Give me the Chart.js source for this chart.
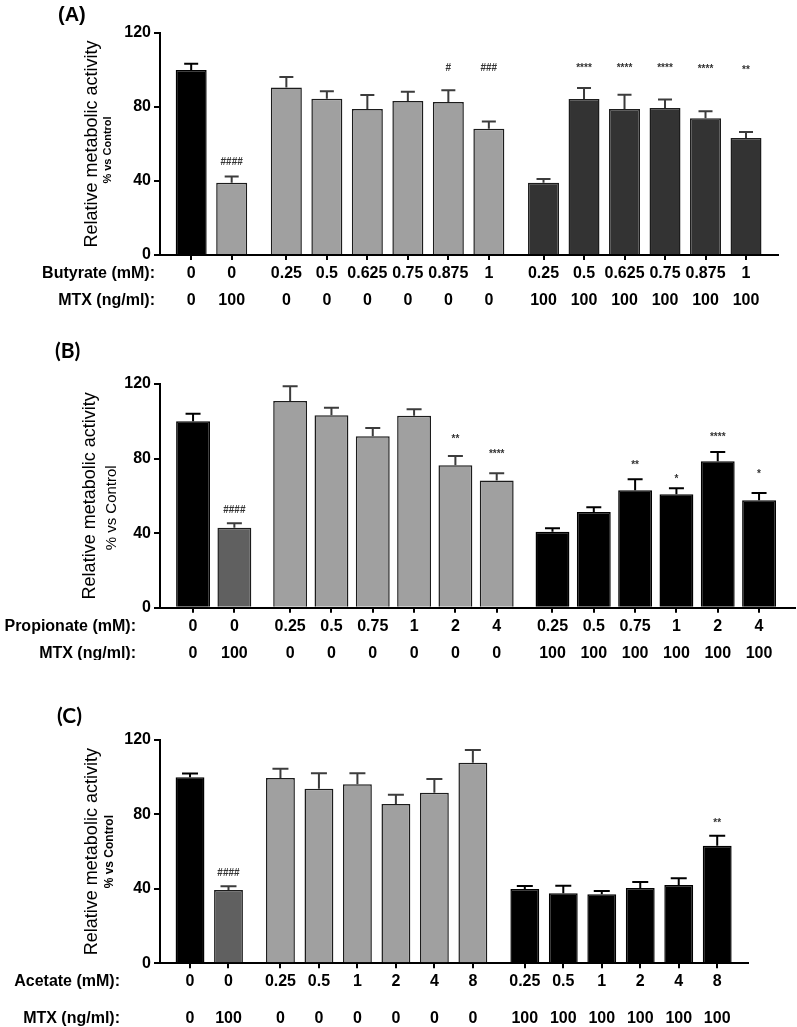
<!DOCTYPE html>
<html>
<head>
<meta charset="utf-8">
<script src="https://cdn.jsdelivr.net/npm/chart.js@4.4.0/dist/chart.umd.min.js"></script>
<style>
  html, body { margin: 0; padding: 0; background: #fff; }
  #page { position: relative; width: 797px; height: 1027px; overflow: hidden; }
  .panel { position: absolute; left: 0; width: 797px; }
</style>
</head>
<body>
<div id="page">
  <div class="panel" style="top:0;height:320px"><canvas id="chartA"></canvas></div>
  <div class="panel" style="top:320px;height:340px"><canvas id="chartB"></canvas></div>
  <div class="panel" style="top:660px;height:367px"><canvas id="chartC"></canvas></div>
</div>
<script>
// (A) butyrate
const butyrateConc = ['0', '0', '0.25', '0.5', '0.625', '0.75', '0.875', '1', '0.25', '0.5', '0.625', '0.75', '0.875', '1'];
const butyrateMtx = ['0', '100', '0', '0', '0', '0', '0', '0', '100', '100', '100', '100', '100', '100'];
const butyrateMean = [100, 39.1, 90.6, 84.5, 78.9, 83.2, 82.7, 68.3, 39.1, 84.3, 78.9, 79.5, 73.9, 63.2];
const butyrateSem = [3.4, 3.4, 5.6, 4, 7.6, 5, 6.3, 3.8, 2, 6, 7.7, 4.5, 3.8, 3.3];
const butyrateMarks = ['', '####', '', '', '', '', '#', '###', '', '****', '****', '****', '****', '**'];
const butyrateMarkAt = [null, 50.4, null, null, null, null, 101, 101, null, 100.8, 100.8, 100.8, 100.4, 100];

// (B) propionate
const propionateConc = ['0', '0', '0.25', '0.5', '0.75', '1', '2', '4', '0.25', '0.5', '0.75', '1', '2', '4'];
const propionateMtx = ['0', '100', '0', '0', '0', '0', '0', '0', '100', '100', '100', '100', '100', '100'];
const propionateMean = [100, 42.9, 110.9, 103.2, 92, 103, 76.4, 68.3, 40.8, 51.3, 63, 60.8, 78.5, 57.6];
const propionateSem = [4, 2.4, 7.9, 4.1, 4.4, 3.4, 5, 3.8, 1.8, 2.6, 5.9, 3.3, 5, 3.9];
const propionateMarks = ['', '####', '', '', '', '', '**', '****', '', '', '**', '*', '****', '*'];
const propionateMarkAt = [null, 52.4, null, null, null, null, 90.5, 82.3, null, null, 76.6, 69, 91.2, 71.6];

// (C) acetate
const acetateConc = ['0', '0', '0.25', '0.5', '1', '2', '4', '8', '0.25', '0.5', '1', '2', '4', '8'];
const acetateMtx = ['0', '100', '0', '0', '0', '0', '0', '0', '100', '100', '100', '100', '100', '100'];
const acetateMean = [100, 39.4, 99.6, 93.8, 96.2, 85.6, 91.7, 107.8, 39.9, 37.6, 37.1, 40.5, 42.1, 63.2];
const acetateSem = [2, 2, 5, 8.3, 5.9, 5, 7.3, 6.8, 1.6, 4.1, 1.8, 3.2, 3.6, 5.4];
const acetateMarks = ['', '####', '', '', '', '', '', '', '', '', '', '', '', '**'];
const acetateMarkAt = [null, 48.4, null, null, null, null, null, null, null, null, null, null, null, 75.5];

// control | MTX only | SCFA only | SCFA + MTX
const groupSizes = [2, 6, 6];
const GAP = 0.35;

const FONT = "'Liberation Sans', Arial, sans-serif";
Chart.defaults.font.family = FONT;
Chart.defaults.color = '#000';

function roleOf(i) {
  if (i === 0) return 0;
  if (i === 1) return 1;
  return i < groupSizes[0] + groupSizes[1] ? 2 : 3;
}

function positions(n) {
  const out = [];
  let g = 0, k = 0;
  for (let i = 0; i < n; i++) {
    if (k === groupSizes[g]) { g++; k = 0; }
    out.push(i + g * GAP);
    k++;
  }
  return out;
}

function makePanel(id, d, s) {
  const pos = positions(d.mean.length);
  const fills = d.mean.map((v, i) => s.palette[roleOf(i)]);
  const edges = fills.map(c => c === '#000000' ? '#000000' : '#1c1c1c');
  const errCol = fills.map(c => c === '#000000' ? '#000000' : '#3c3c3c');

  const decor = {
    id: 'decor' + id,
    afterDatasetsDraw(chart) {
      const ctx = chart.ctx, xs = chart.scales.x, ys = chart.scales.y;
      ctx.save();
      d.mean.forEach((m, i) => {
        const px = xs.getPixelForValue(pos[i]);
        const yb = ys.getPixelForValue(m);
        const yt = ys.getPixelForValue(m + d.sem[i]);
        ctx.strokeStyle = errCol[i];
        ctx.lineWidth = 2;
        ctx.beginPath();
        ctx.moveTo(px, yb);
        ctx.lineTo(px, yt);
        ctx.moveTo(px - s.cap / 2, yt);
        ctx.lineTo(px + s.cap / 2, yt);
        ctx.stroke();
        if (d.marks[i]) {
          ctx.fillStyle = '#333';
          ctx.font = 'bold 10px ' + FONT;
          ctx.textAlign = 'center';
          ctx.textBaseline = 'middle';
          ctx.fillText(d.marks[i], px, ys.getPixelForValue(d.markAt[i]));
        }
      });
      ctx.restore();
    },
    afterDraw(chart) {
      const ctx = chart.ctx, xs = chart.scales.x, area = chart.chartArea;
      const midY = (area.top + area.bottom) / 2;
      ctx.save();
      ctx.fillStyle = '#000';
      // panel letter
      ctx.font = s.letterFont;
      ctx.textAlign = 'left';
      ctx.textBaseline = 'middle';
      ctx.fillText(s.letter, s.letterX, s.letterY);
      // y title, two lines
      ctx.textAlign = 'center';
      ctx.save();
      ctx.translate(s.titleX, midY);
      ctx.rotate(-Math.PI / 2);
      ctx.font = '18px ' + FONT;
      ctx.fillText('Relative metabolic activity', 0, 0);
      ctx.restore();
      ctx.save();
      ctx.translate(s.subX, midY + s.subShift);
      ctx.rotate(-Math.PI / 2);
      ctx.font = s.subFont;
      ctx.fillText('% vs Control', 0, 0);
      ctx.restore();
      // row titles next to the tick label rows
      const y0 = xs.top + 5 + s.tickPad + s.rowGap / 2;
      ctx.textAlign = 'right';
      ctx.font = 'bold 16px ' + FONT;
      ctx.fillText(d.rowTitle, s.rowRight, y0);
      ctx.fillText('MTX (ng/ml):', s.rowRight, y0 + s.rowGap);
      ctx.restore();
    }
  };

  return new Chart(document.getElementById(id), {
    type: 'bar',
    data: {
      datasets: [{
        data: d.mean.map((v, i) => ({ x: pos[i], y: v })),
        backgroundColor: fills,
        borderColor: edges,
        borderWidth: 1.5,
        borderSkipped: 'start',
        barPercentage: s.barPct,
        categoryPercentage: 1
      }]
    },
    options: {
      responsive: true,
      maintainAspectRatio: false,
      animation: false,
      layout: { padding: { top: s.padTop, right: s.padRight, left: 0, bottom: 0 } },
      plugins: { legend: { display: false }, tooltip: { enabled: false } },
      scales: {
        x: {
          type: 'linear',
          offset: false,
          min: s.xMin,
          max: s.xMax,
          afterBuildTicks: axis => { axis.ticks = pos.map(v => ({ value: v })); },
          afterFit: axis => { axis.height = s.xHeight; },
          ticks: {
            autoSkip: false,
            maxRotation: 0,
            minRotation: 0,
            padding: s.tickPad,
            font: { size: 16, weight: 'bold', lineHeight: s.rowGap + 'px' },
            callback: (v, i) => [d.conc[i], d.mtx[i]]
          },
          grid: { offset: false, drawOnChartArea: false, tickLength: 5, color: '#000', lineWidth: 2 },
          border: { color: '#000', width: 2 }
        },
        y: {
          min: 0,
          max: 120,
          afterFit: axis => { axis.width = 160; },
          ticks: { stepSize: 40, padding: 3, font: { size: 16, weight: 'bold' } },
          grid: { drawOnChartArea: false, tickLength: 6, color: '#000', lineWidth: 2 },
          border: { color: '#000', width: 2 }
        }
      }
    },
    plugins: [decor]
  });
}

makePanel('chartA', {
  conc: butyrateConc, mtx: butyrateMtx, mean: butyrateMean, sem: butyrateSem,
  marks: butyrateMarks, markAt: butyrateMarkAt, rowTitle: 'Butyrate (mM):'
}, {
  palette: ['#000000', '#a0a0a0', '#a0a0a0', '#333333'],
  padTop: 33, padRight: 19, xHeight: 65, xMin: -0.77, xMax: 14.49, barPct: 0.765,
  tickPad: 0, rowGap: 27, rowRight: 155, cap: 14,
  letter: '(A)', letterFont: 'bold 20px ' + FONT, letterX: 58, letterY: 15,
  titleX: 92, subX: 108, subShift: 6, subFont: 'bold 11px ' + FONT
});

makePanel('chartB', {
  conc: propionateConc, mtx: propionateMtx, mean: propionateMean, sem: propionateSem,
  marks: propionateMarks, markAt: propionateMarkAt, rowTitle: 'Propionate (mM):'
}, {
  palette: ['#000000', '#606060', '#a0a0a0', '#000000'],
  padTop: 64, padRight: 2, xHeight: 52.3, xMin: -0.8, xMax: 14.57, barPct: 0.82,
  tickPad: 1, rowGap: 26.6, rowRight: 136, cap: 15,
  letter: '(B)', letterFont: 'bold 21px Lato, ' + FONT, letterX: 55, letterY: 31,
  titleX: 90, subX: 112, subShift: 12, subFont: '15px ' + FONT
});

makePanel('chartC', {
  conc: acetateConc, mtx: acetateMtx, mean: acetateMean, sem: acetateSem,
  marks: acetateMarks, markAt: acetateMarkAt, rowTitle: 'Acetate (mM):'
}, {
  palette: ['#000000', '#606060', '#a0a0a0', '#000000'],
  padTop: 80, padRight: 49, xHeight: 63.7, xMin: -0.78, xMax: 14.5, barPct: 0.75,
  tickPad: -5, rowGap: 36.6, rowRight: 120, cap: 16,
  letter: '(C)', letterFont: 'bold 21px Lato, ' + FONT, letterX: 57, letterY: 56,
  titleX: 92, subX: 110, subShift: 0, subFont: 'bold 12px ' + FONT
});
</script>
</body>
</html>
